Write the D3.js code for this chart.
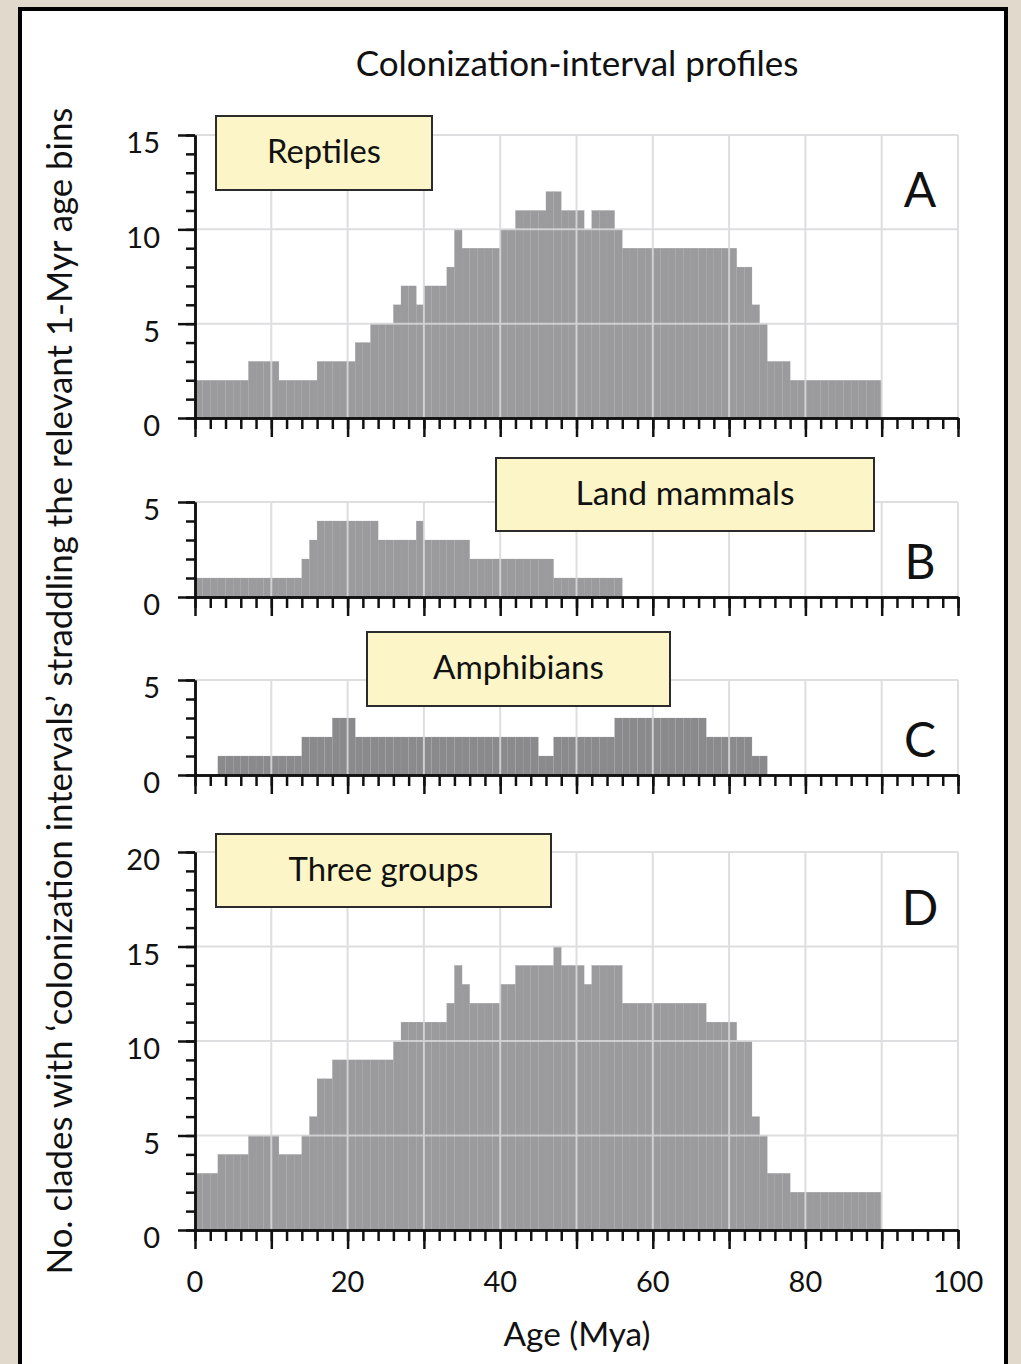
<!DOCTYPE html>
<html>
<head>
<meta charset="utf-8">
<script src="https://cdn.jsdelivr.net/npm/d3@7"></script>
<style>
  html, body { margin: 0; padding: 0; background: #e1dacc; }
  svg { display: block; }
  text { font-family: Lato, "Open Sans", sans-serif; fill: #111; }
</style>
</head>
<body>
<svg id="chart" width="1021" height="1364"></svg>
<script>
// ---------------- DATA (values per 1-Myr age bin, starting at 0 Mya) ----------------
const reptiles = [2,2,2,2,2,2,2, 3,3,3,3, 2,2,2,2,2, 3,3,3,3,3, 4,4, 5,5,5, 6, 7,7, 6, 7,7,7, 8, 10,
  9,9,9,9,9, 10,10, 11,11,11,11, 12,12, 11,11,11, 10, 11,11,11, 10,
  9,9,9,9,9,9,9,9,9,9,9,9,9,9,9, 8,8, 6, 5, 3,3,3, 2,2,2,2,2,2,2,2,2,2,2,2];
const landMammals = [1,1,1,1,1,1,1,1,1,1,1,1,1,1, 2, 3, 4,4,4,4,4,4,4,4, 3,3,3,3,3, 4,
  3,3,3,3,3,3, 2,2,2,2,2,2,2,2,2,2,2, 1,1,1,1,1,1,1,1,1];
const amphibians = [0,0,0, 1,1,1,1,1,1,1,1,1,1,1, 2,2,2,2, 3,3,3,
  2,2,2,2,2,2,2,2,2,2,2,2,2,2,2,2,2,2,2,2,2,2,2,2, 1,1, 2,2,2,2,2,2,2,2,
  3,3,3,3,3,3,3,3,3,3,3,3, 2,2,2,2,2,2, 1,1];
const threeGroups = [3,3,3, 4,4,4,4, 5,5,5,5, 4,4,4, 5, 6, 8,8, 9,9,9,9,9,9,9,9, 10,
  11,11,11,11,11,11, 12, 14, 13, 12,12,12,12, 13,13, 14,14,14,14,14, 15, 14,14,14, 13,
  14,14,14,14, 12,12,12,12,12,12,12,12,12,12,12, 11,11,11,11, 10,10, 6, 5, 3,3,3,
  2,2,2,2,2,2,2,2,2,2,2,2];

const panelKeys = ["A", "B", "C", "D"];
const panelLabels = ["Reptiles", "Land mammals", "Amphibians", "Three groups"];
const panelMax = [15, 5, 5, 20];
const xTickLabels = [0, 20, 40, 60, 80, 100];
const chartTitle = "Colonization-interval profiles";
const xTitle = "Age (Mya)";
const yTitle = "No. clades with \u2018colonization intervals\u2019 straddling the relevant 1-Myr age bins";

// ---------------- LAYOUT ----------------
const seriesList = [reptiles, landMammals, amphibians, threeGroups];
const layout = [
  { top: 135, bottom: 418, fill: "#9b9b9d", box: [216, 116, 432, 190], labelW: 114, letterY: 207 },
  { top: 502, bottom: 597, fill: "#9b9b9d", box: [496, 458, 874, 531], labelW: 219, letterY: 579 },
  { top: 680, bottom: 775, fill: "#8a8a8c", box: [367, 632, 670, 706], labelW: 171, letterY: 757 },
  { top: 852, bottom: 1230, fill: "#9b9b9d", box: [216, 834, 551, 907], labelW: 190, letterY: 925 }
];

const svg = d3.select("#chart");

// frame
svg.append("rect").attr("x", 20).attr("y", 9).attr("width", 986).attr("height", 1380)
  .attr("fill", "#fff").attr("stroke", "#000").attr("stroke-width", 4);

const x = d3.scaleLinear().domain([0, 100]).range([195, 958]);

function fit(sel, target) {
  const w = sel.node().getComputedTextLength();
  const fs = parseFloat(sel.attr("font-size"));
  sel.attr("font-size", fs * target / w);
}

panelKeys.forEach((key, pi) => {
  const L = layout[pi];
  const data = seriesList[pi];
  const max = panelMax[pi];
  const y = d3.scaleLinear().domain([0, max]).range([L.bottom, L.top]);
  const g = svg.append("g");

  // bars
  g.selectAll("rect.bar").data(data).join("rect")
    .attr("class", "bar")
    .attr("x", (d, i) => x(i))
    .attr("width", (d, i) => x(i + 1) - x(i))
    .attr("y", d => y(d))
    .attr("height", d => y(0) - y(d))
    .attr("fill", L.fill)
    .attr("stroke", "#a4a4a6").attr("stroke-width", 0.25);

  // grid
  const grid = g.append("g").attr("stroke", "#d9d9dc").attr("stroke-width", 2).attr("opacity", 0.85);
  d3.range(10, 101, 10).forEach(v => {
    grid.append("line").attr("x1", x(v)).attr("x2", x(v)).attr("y1", y(max)).attr("y2", y(0));
  });
  d3.range(5, max + 1, 5).forEach(v => {
    grid.append("line").attr("x1", x(0)).attr("x2", x(100)).attr("y1", y(v)).attr("y2", y(v));
  });

  // y axis: minor + major ticks
  const yMinor = g.append("g").attr("transform", `translate(${x(0)},0)`)
    .call(d3.axisLeft(y).tickValues(d3.range(0, max + 1)).tickSize(9).tickSizeOuter(0).tickFormat(""));
  const yMajor = g.append("g").attr("transform", `translate(${x(0)},0)`)
    .call(d3.axisLeft(y).tickValues(d3.range(0, max + 1, 5)).tickSize(17).tickSizeOuter(0)
      .tickPadding(18).tickFormat(d3.format("d")));
  [yMinor, yMajor].forEach(a => {
    a.selectAll("path, line").attr("stroke", "#111").attr("stroke-width", 2.5);
  });
  yMajor.selectAll("text").attr("font-size", 29).attr("font-family", "Lato, sans-serif")
    .attr("fill", "#111").attr("dy", "0.62em");

  // x axis
  const xMinor = g.append("g").attr("transform", `translate(0,${y(0)})`)
    .call(d3.axisBottom(x).tickValues(d3.range(0, 101, 2)).tickSize(11).tickSizeOuter(0).tickFormat(""));
  const xMajor = g.append("g").attr("transform", `translate(0,${y(0)})`)
    .call(d3.axisBottom(x).tickValues(d3.range(0, 101, 10)).tickSize(19).tickSizeOuter(0).tickFormat(""));
  [xMinor, xMajor].forEach(a => {
    a.selectAll("path, line").attr("stroke", "#111").attr("stroke-width", 2.5);
  });

  // label box
  const b = L.box;
  g.append("rect").attr("x", b[0]).attr("y", b[1]).attr("width", b[2] - b[0]).attr("height", b[3] - b[1])
    .attr("fill", "#fbf5c8").attr("stroke", "#2b2b2b").attr("stroke-width", 2);
  const lt = g.append("text").attr("x", (b[0] + b[2]) / 2).attr("y", (b[1] + b[3]) / 2 + 10)
    .attr("text-anchor", "middle").attr("font-size", 30).text(panelLabels[pi]);
  fit(lt, L.labelW);

  // panel letter
  g.append("text").attr("x", 920).attr("y", L.letterY).attr("text-anchor", "middle")
    .attr("font-size", 48).text(key);

  // x tick labels on the bottom panel
  if (pi === panelKeys.length - 1) {
    g.selectAll("text.xt").data(xTickLabels).join("text").attr("class", "xt")
      .attr("x", d => x(d)).attr("y", 1292).attr("text-anchor", "middle")
      .attr("font-size", 29).text(d => d);
  }
});

// titles
const t = svg.append("text").attr("x", 577).attr("y", 76).attr("text-anchor", "middle")
  .attr("font-size", 30).text(chartTitle);
fit(t, 443);
const xt = svg.append("text").attr("x", 577).attr("y", 1346).attr("text-anchor", "middle")
  .attr("font-size", 28).text(xTitle);
fit(xt, 147);
const yt = svg.append("text").attr("transform", "translate(72,691) rotate(-90)")
  .attr("text-anchor", "middle").attr("font-size", 26).text(yTitle);
fit(yt, 1167);
</script>
</body>
</html>
